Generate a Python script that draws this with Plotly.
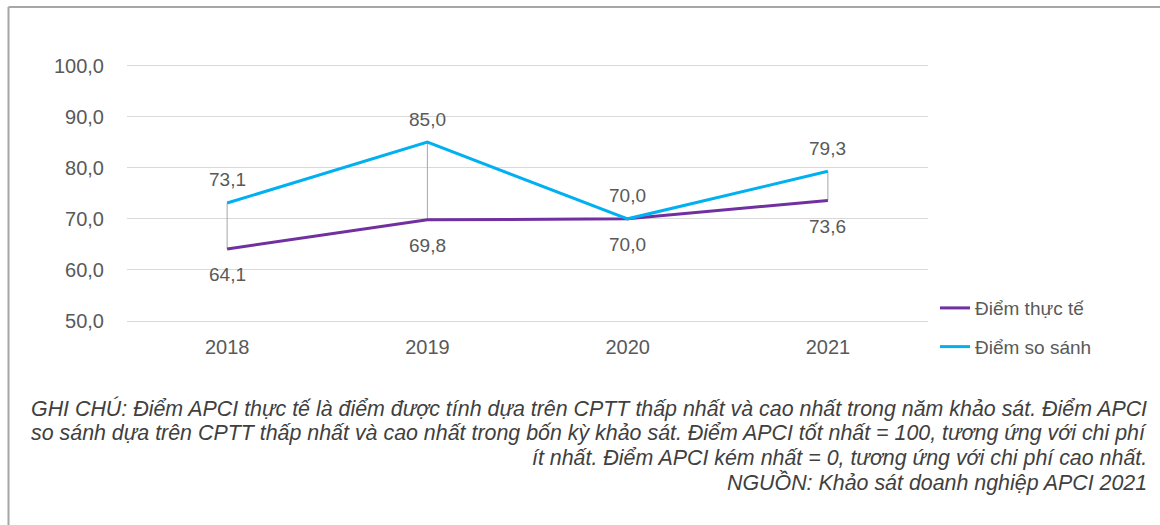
import plotly.graph_objects as go

years = ["2018", "2019", "2020", "2021"]
diem_thuc_te = [64.1, 69.8, 70.0, 73.6]
diem_so_sanh = [73.1, 85.0, 70.0, 79.3]
series_names = ["Điểm thực tế", "Điểm so sánh"]
y_ticks = [50, 60, 70, 80, 90, 100]
note_lines = [
    "GHI CHÚ: Điểm APCI thực tế là điểm được tính dựa trên CPTT thấp nhất và cao nhất trong năm khảo sát. Điểm APCI",
    "so sánh dựa trên CPTT thấp nhất và cao nhất trong bốn kỳ khảo sát. Điểm APCI tốt nhất = 100, tương ứng với chi phí",
    "ít nhất. Điểm APCI kém nhất = 0, tương ứng với chi phí cao nhất.",
    "NGUỒN: Khảo sát doanh nghiệp APCI 2021",
]

W, H = 1160, 525
L, R, T, B = 127, 232, 63.5, 204
PW, PH = W - L - R, H - T - B
FONT = "Liberation Sans, Arial, sans-serif"
TXT = "#595959"
PURPLE = "#7030A0"
BLUE = "#00B0F0"


def px2paper(x, y):
    return (x - L) / PW, (H - B - y) / PH


fig = go.Figure()

# high-low drop lines between the two series
dx, dy = [], []
for yr, a, b in zip(years, diem_thuc_te, diem_so_sanh):
    dx += [yr, yr, None]
    dy += [a, b, None]
fig.add_trace(go.Scatter(x=dx, y=dy, mode="lines", line=dict(color="#a6a6a6", width=1),
                         showlegend=False, hoverinfo="skip"))

fig.add_trace(go.Scatter(x=years, y=diem_thuc_te, mode="lines", name=series_names[0],
                         line=dict(color=PURPLE, width=3), legendgroup="a"))
fig.add_trace(go.Scatter(x=years, y=diem_so_sanh, mode="lines", name=series_names[1],
                         line=dict(color=BLUE, width=3), legendgroup="b"))

fmt = lambda v: f"{v:.1f}".replace(".", ",")
annotations = []
for i, v in enumerate(diem_so_sanh):
    annotations.append(dict(xref="x", yref="y", x=i, y=v, text=fmt(v), showarrow=False, yshift=23,
                            font=dict(family=FONT, size=19, color=TXT)))
for i, v in enumerate(diem_thuc_te):
    annotations.append(dict(xref="x", yref="y", x=i, y=v, text=fmt(v), showarrow=False, yshift=-26,
                            font=dict(family=FONT, size=19, color=TXT)))

for k, line in enumerate(note_lines):
    nx, ny = px2paper(1149, 409 + 24.5 * k)
    annotations.append(dict(xref="paper", yref="paper", x=nx, y=ny, xanchor="right", yanchor="middle",
                            align="right", showarrow=False, text=line,
                            font=dict(family=FONT, size=21.4, color="#404040", style="italic")))

x0, y0 = px2paper(8.5, 6.5)
x1, _ = px2paper(W + 5, 0)
_, ybot = px2paper(0, H + 5)
shapes = [
    dict(type="line", xref="paper", yref="paper", x0=x0, x1=x0, y0=y0, y1=ybot,
         line=dict(color="#a6a6a6", width=2)),
    dict(type="line", xref="paper", yref="paper", x0=x0, x1=x1, y0=y0, y1=y0,
         line=dict(color="#a6a6a6", width=2)),
]

lx, ly = px2paper(935, 289)
fig.update_layout(
    width=W, height=H,
    margin=dict(l=L, r=R, t=T, b=B, pad=0),
    paper_bgcolor="white", plot_bgcolor="white",
    separators=",.",
    font=dict(family=FONT, size=19, color=TXT),
    showlegend=True,
    legend=dict(x=lx, y=ly, xanchor="left", yanchor="top", bgcolor="rgba(0,0,0,0)",
                font=dict(family=FONT, size=19, color=TXT), tracegroupgap=11,
                itemwidth=30),
    annotations=annotations,
    shapes=shapes,
    xaxis=dict(type="category", range=[-0.5, 3.5], showgrid=False, zeroline=False,
               showline=True, linecolor="#d9d9d9", linewidth=1,
               ticks="outside", ticklen=8, tickcolor="rgba(0,0,0,0)",
               tickfont=dict(family=FONT, size=20, color=TXT)),
    yaxis=dict(range=[50, 100.3], tickvals=y_ticks, tickformat=".1f", showgrid=True,
               gridcolor="#d9d9d9", gridwidth=1, zeroline=False, showline=False,
               ticks="", ticklabelstandoff=22,
               tickfont=dict(family=FONT, size=20, color=TXT)),
)

fig.write_html("out.html", config={"displayModeBar": False},
               post_script="document.body.style.margin='0';")
